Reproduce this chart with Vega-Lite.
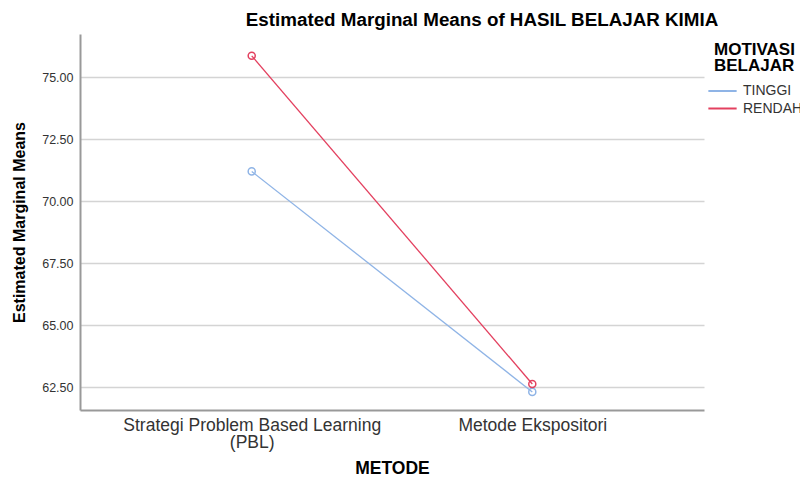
{
  "$schema": "https://vega.github.io/schema/vega-lite/v6.json",
  "autosize": {"type": "none"},
  "width": 624,
  "height": 376,
  "padding": {"left": 80, "top": 34, "right": 96, "bottom": 71},
  "background": "white",
  "config": {
    "font": "Liberation Sans",
    "view": {"stroke": null}
  },
  "title": {
    "text": "Estimated Marginal Means of HASIL BELAJAR KIMIA",
    "fontSize": 18.8,
    "fontWeight": "bold",
    "color": "#000000",
    "anchor": "middle",
    "frame": "group",
    "dx": 90,
    "offset": 4
  },
  "data": {
    "values": [
      {"metode": "Strategi Problem Based Learning (PBL)", "motivasi": "TINGGI", "mean": 71.21},
      {"metode": "Metode Ekspositori", "motivasi": "TINGGI", "mean": 62.32},
      {"metode": "Strategi Problem Based Learning (PBL)", "motivasi": "RENDAH", "mean": 75.87},
      {"metode": "Metode Ekspositori", "motivasi": "RENDAH", "mean": 62.64}
    ]
  },
  "encoding": {
    "x": {
      "field": "metode",
      "type": "nominal",
      "sort": ["Strategi Problem Based Learning (PBL)", "Metode Ekspositori"],
      "scale": {"type": "point", "padding": 0.612},
      "axis": {
        "title": "METODE",
        "titleFontSize": 17.5,
        "titleFontWeight": "bold",
        "titleColor": "#000000",
        "titlePadding": 9,
        "labelAngle": 0,
        "labelFontSize": 17.5,
        "labelColor": "#333333",
        "labelPadding": 6,
        "labelLineHeight": 17,
        "labelLimit": 0,
        "labelExpr": "datum.value == 'Strategi Problem Based Learning (PBL)' ? ['Strategi Problem Based Learning', '(PBL)'] : datum.value",
        "ticks": false,
        "grid": false,
        "domainColor": "#999999",
        "domainWidth": 2
      }
    },
    "y": {
      "field": "mean",
      "type": "quantitative",
      "scale": {"domain": [61.59, 76.75], "zero": false, "nice": false},
      "axis": {
        "title": "Estimated Marginal Means",
        "titleFontSize": 16,
        "titleFontWeight": "bold",
        "titleColor": "#000000",
        "titlePadding": 14,
        "values": [62.5, 65, 67.5, 70, 72.5, 75],
        "format": ".2f",
        "labelFontSize": 12.5,
        "labelColor": "#333333",
        "labelPadding": 7,
        "ticks": false,
        "grid": true,
        "gridColor": "#d4d4d4",
        "gridWidth": 1.5,
        "domainColor": "#999999",
        "domainWidth": 2
      }
    },
    "color": {
      "field": "motivasi",
      "type": "nominal",
      "sort": ["TINGGI", "RENDAH"],
      "scale": {"domain": ["TINGGI", "RENDAH"], "range": ["#8fb4e6", "#e3405f"]},
      "legend": {
        "title": ["MOTIVASI", "BELAJAR"],
        "titleFontSize": 17,
        "titleFontWeight": "bold",
        "titleColor": "#000000",
        "titleLineHeight": 15.5,
        "titlePadding": 8,
        "orient": "none",
        "legendX": 634,
        "legendY": 8,
        "symbolType": "M-2,0H2",
        "symbolSize": 200,
        "symbolStrokeWidth": 2,
        "labelFontSize": 14,
        "labelColor": "#333333",
        "labelOffset": 12,
        "rowPadding": 1.5
      }
    }
  },
  "layer": [
    {"mark": {"type": "line", "strokeWidth": 1.3}},
    {"mark": {"type": "point", "filled": false, "size": 50, "strokeWidth": 1.5, "opacity": 1}}
  ]
}
